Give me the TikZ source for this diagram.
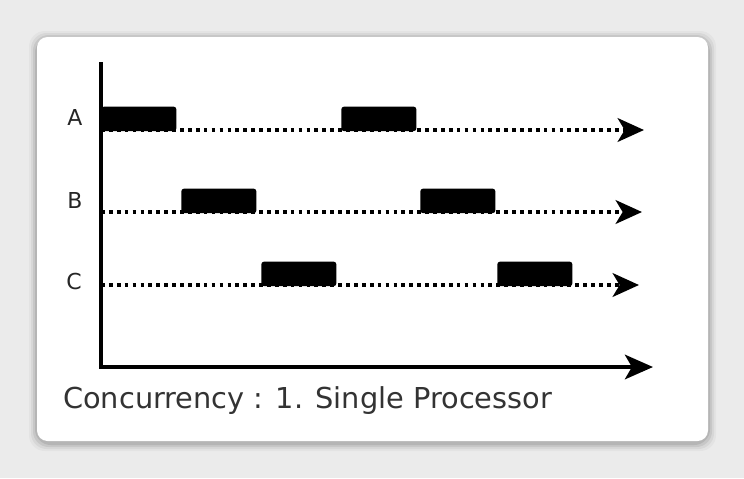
\documentclass[tikz,border=0pt]{standalone}
\usepackage{fontspec}
\setmainfont{DejaVu Sans}
\usetikzlibrary{arrows.meta}
\tikzstyle{axis} = [line width=2pt, -{Stealth[length=16pt,width=14pt,inset=4pt]}]
\tikzstyle{timeline} = [line width=2.1pt, dash pattern=on 2.1pt off 2.4pt, -{Stealth[length=15pt,width=13.5pt,inset=4pt]}]
\tikzstyle{task} = [draw=none, fill=black, rounded corners=1.5pt, minimum width=1.5cm, minimum height=0.49cm, inner sep=0pt, anchor=south west]
\tikzstyle{rowlabel} = [font=\fontsize{12.5}{15}\selectfont, text=black!85]

\begin{document}
\begin{tikzpicture}[x=0.02cm, y=-0.02cm]
        % Card and background
        \useasboundingbox (0,0) rectangle (744,478);
        \fill[black!8] (0,0) rectangle (744,478);
        \foreach \s/\o in {8/0.03,6/0.05,4/0.07,2/0.09}
          \fill[black, opacity=\o, rounded corners=9pt] (37-\s,37-\s+2) rectangle (708+\s,441+\s+2);
        \fill[white, rounded corners=6pt] (37,37) rectangle (708,441);

        % Axes
        \coordinate (top) at (101,62);
        \coordinate (origin) at (101,367);
        \coordinate (xend) at (653,367);
        \draw[axis] (top) -- (origin) -- (xend);

        % Row labels
        \node[rowlabel] (labA) at (75,117) {A};
        \node[rowlabel] (labB) at (75,200) {B};
        \node[rowlabel] (labC) at (74,281) {C};

        % Time lines
        \coordinate (a0) at (101,130);
        \coordinate (a1) at (644,130);
        \coordinate (b0) at (101,212);
        \coordinate (b1) at (642,212);
        \coordinate (c0) at (101,285);
        \coordinate (c1) at (639,285);
        \draw[timeline] (a0) -- (a1);
        \draw[timeline] (b0) -- (b1);
        \draw[timeline] (c0) -- (c1);

        % Time slices
        \node[task] (A1) at (101,131.5) {};
        \node[task] (A2) at (341,131.5) {};
        \node[task] (B1) at (181,213.5) {};
        \node[task] (B2) at (420,213.5) {};
        \node[task] (C1) at (261,286.5) {};
        \node[task] (C2) at (497,286.5) {};

        % Caption
        \node[font=\fontsize{16.4}{19}\selectfont, text=black!80, anchor=west] (caption) at (57,401) {Concurrency : 1. Single Processor};
      \end{tikzpicture}
\end{document}
